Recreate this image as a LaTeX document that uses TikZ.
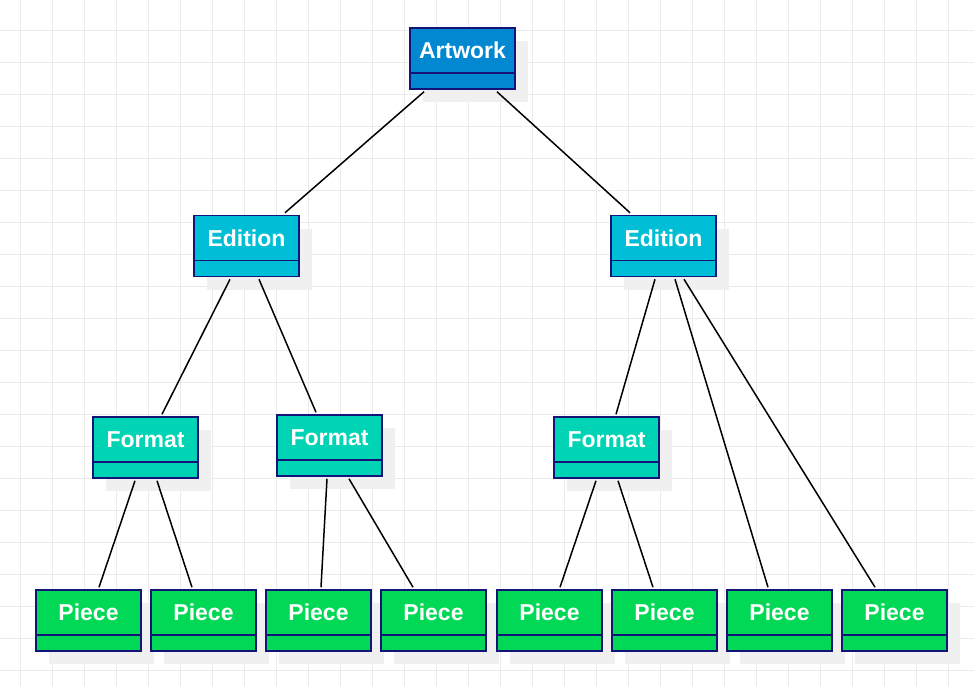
\documentclass[tikz,border=0pt]{standalone}
\usepackage{fontspec}
\setmainfont{Liberation Sans}
\usetikzlibrary{shadows}

\definecolor{artblue}{RGB}{2,136,209}
\definecolor{editioncyan}{RGB}{0,190,214}
\definecolor{formatteal}{RGB}{0,212,180}
\definecolor{piecegreen}{RGB}{0,216,86}
\definecolor{navyline}{RGB}{20,20,120}
\definecolor{gridgray}{RGB}{235,235,235}
\definecolor{shadowgray}{RGB}{240,240,240}

\begin{document}
\begin{tikzpicture}[
    x=1pt, y=-1pt,
    entity/.style={
        rectangle,
        draw=navyline,
        line width=1.5pt,
        minimum width=105pt,
        minimum height=61pt,
        text=white,
        font=\bfseries\fontsize{23}{27}\selectfont,
        text height=8pt,
        text depth=8pt,
        drop shadow={shadow xshift=13pt, shadow yshift=-13pt, fill=shadowgray, opacity=1},
        path picture={
            \draw[navyline, line width=1.5pt]
                ([yshift=16pt]path picture bounding box.south west) --
                ([yshift=16pt]path picture bounding box.south east);
        }
    },
    link/.style={line width=1.5pt, black}
]

\useasboundingbox (0,0) rectangle (974,686);
\fill[white] (0,0) rectangle (974,686);

% background grid
\foreach \gx in {20,52,...,980}
    \draw[gridgray, line width=1pt] (\gx,0) -- (\gx,686);
\foreach \gy in {30,62,...,690}
    \draw[gridgray, line width=1pt] (0,\gy) -- (974,\gy);

% tree levels
\node[entity, fill=artblue] (artwork) at (462.5,58.5) {Artwork};

\node[entity, fill=editioncyan] (editionL) at (246.5,246) {Edition};
\node[entity, fill=editioncyan] (editionR) at (663.5,246) {Edition};

\node[entity, fill=formatteal] (formatA) at (145.5,447.5) {Format};
\node[entity, fill=formatteal] (formatB) at (329.5,445.5) {Format};
\node[entity, fill=formatteal] (formatC) at (606.5,447.5) {Format};

\node[entity, fill=piecegreen] (piece1) at (88.5,620.5) {Piece};
\node[entity, fill=piecegreen] (piece2) at (203.5,620.5) {Piece};
\node[entity, fill=piecegreen] (piece3) at (318.5,620.5) {Piece};
\node[entity, fill=piecegreen] (piece4) at (433.5,620.5) {Piece};
\node[entity, fill=piecegreen] (piece5) at (549.5,620.5) {Piece};
\node[entity, fill=piecegreen] (piece6) at (664.5,620.5) {Piece};
\node[entity, fill=piecegreen] (piece7) at (779.5,620.5) {Piece};
\node[entity, fill=piecegreen] (piece8) at (894.5,620.5) {Piece};

% connectors
\draw[link] ([xshift=-38.5pt,yshift=-2pt]artwork.south) -- ([xshift=38.5pt,yshift=2pt]editionL.north);
\draw[link] ([xshift=34.5pt,yshift=-2pt]artwork.south) -- ([xshift=-33.5pt,yshift=2pt]editionR.north);

\draw[link] ([xshift=-16.5pt,yshift=-2pt]editionL.south) -- ([xshift=16.5pt,yshift=2pt]formatA.north);
\draw[link] ([xshift=12.5pt,yshift=-2pt]editionL.south) -- ([xshift=-13.5pt,yshift=2pt]formatB.north);

\draw[link] ([xshift=-8.5pt,yshift=-2pt]editionR.south) -- ([xshift=9.5pt,yshift=2pt]formatC.north);
\draw[link] ([xshift=11.5pt,yshift=-2pt]editionR.south) -- ([xshift=-11.5pt,yshift=2pt]piece7.north);
\draw[link] ([xshift=20.5pt,yshift=-2pt]editionR.south) -- ([xshift=-19.5pt,yshift=2pt]piece8.north);

\draw[link] ([xshift=-10.5pt,yshift=-2pt]formatA.south) -- ([xshift=10.5pt,yshift=2pt]piece1.north);
\draw[link] ([xshift=11.5pt,yshift=-2pt]formatA.south) -- ([xshift=-11.5pt,yshift=2pt]piece2.north);

\draw[link] ([xshift=-2.5pt,yshift=-2pt]formatB.south) -- ([xshift=2.5pt,yshift=2pt]piece3.north);
\draw[link] ([xshift=19.5pt,yshift=-2pt]formatB.south) -- ([xshift=-20.5pt,yshift=2pt]piece4.north);

\draw[link] ([xshift=-10.5pt,yshift=-2pt]formatC.south) -- ([xshift=10.5pt,yshift=2pt]piece5.north);
\draw[link] ([xshift=11.5pt,yshift=-2pt]formatC.south) -- ([xshift=-11.5pt,yshift=2pt]piece6.north);

\end{tikzpicture}
\end{document}
